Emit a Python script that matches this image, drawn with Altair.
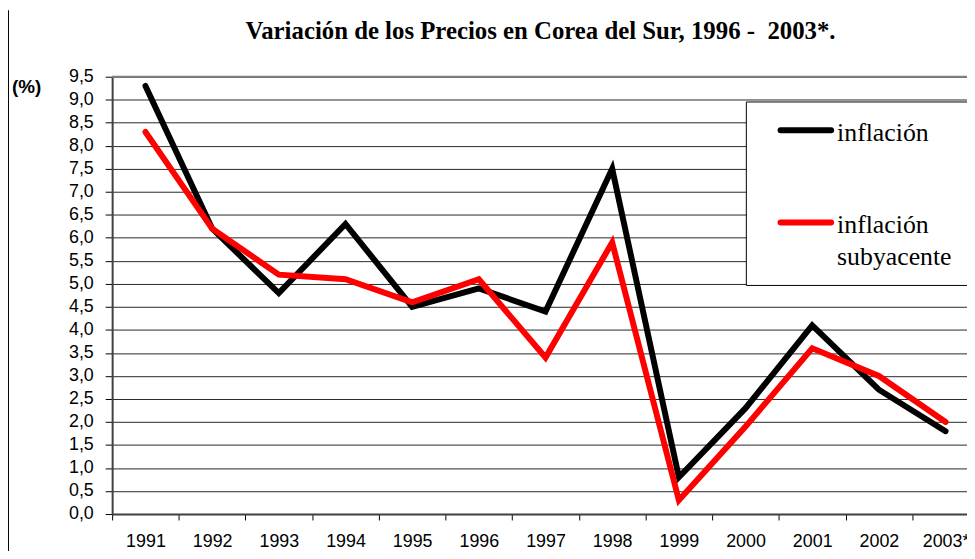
import altair as alt
import pandas as pd

years = ["1991", "1992", "1993", "1994", "1995", "1996", "1997",
         "1998", "1999", "2000", "2001", "2002", "2003*"]
inflacion = [9.3, 6.2, 4.8, 6.3, 4.5, 4.9, 4.4, 7.5, 0.8, 2.3, 4.1, 2.7, 1.8]
subyacente = [8.3, 6.2, 5.2, 5.1, 4.6, 5.1, 3.4, 5.9, 0.3, 1.9, 3.6, 3.0, 2.0]
series_names = ["inflación", "inflación subyacente"]
y_ticks = [i * 0.5 for i in range(20)]
title_text = "Variación de los Precios en Corea del Sur, 1996 -\u00a0 2003*."

rows = []
for y, a in zip(years, inflacion):
    rows.append({"year": y, "serie": series_names[0], "valor": a})
for y, b in zip(years, subyacente):
    rows.append({"year": y, "serie": series_names[1], "valor": b})
df = pd.DataFrame(rows)

W, H = 862, 441
yscale = alt.Scale(domain=[0, 9.5], nice=False, zero=True)

x_enc = alt.X(
    "year:O", sort=years,
    scale=alt.Scale(type="band", range=[0, 874], paddingInner=0, paddingOuter=0),
    axis=alt.Axis(
        title=None, labelAngle=0, tickBand="extent", tickSize=6, tickColor="#000000",
        tickWidth=1, domainColor="#404040", domainWidth=2, grid=False,
        labelFont="Liberation Sans", labelFontSize=18, labelColor="#000000",
        labelPadding=13,
    ),
)
y_enc = alt.Y(
    "valor:Q",
    scale=yscale,
    axis=alt.Axis(
        title=None, values=y_ticks,
        labelExpr="replace(format(datum.value, '.1f'), '.', ',')",
        labelOverlap=False,
        tickSize=7, tickColor="#000000", labelPadding=12,
        labelFont="Liberation Sans", labelFontSize=18, labelColor="#000000",
        domainColor="#404040", domainWidth=2,
        grid=True, gridColor="#000000", gridWidth=1, gridOpacity=0.85,
    ),
)

lines = alt.Chart(df).mark_line(strokeWidth=6, strokeJoin="miter", strokeCap="round").encode(
    x=x_enc, y=y_enc,
    color=alt.Color("serie:N", sort=series_names,
                    scale=alt.Scale(domain=series_names, range=["#000000", "#ff0000"]),
                    legend=None),
    order=alt.Order("serie:N"),
    detail="serie:N",
)

top_line = alt.Chart(pd.DataFrame({"a": [0]})).mark_rule(color="#808080", strokeWidth=2).encode(
    y=alt.value(0), x=alt.value(0), x2=alt.value(880),
)

outer_border = alt.Chart(pd.DataFrame({"a": [0]})).mark_rule(color="#000000", strokeWidth=1).encode(
    x=alt.value(-104.5), y=alt.value(-67), y2=alt.value(480),
)

title = alt.Chart(pd.DataFrame({"t": [title_text]})).mark_text(
    font="Liberation Serif", fontSize=25, fontWeight="bold", align="center",
    baseline="alphabetic", color="#000000",
).encode(text="t:N", x=alt.value(432), y=alt.value(-38))

pct = alt.Chart(pd.DataFrame({"t": ["(%)"]})).mark_text(
    font="Liberation Sans", fontSize=19, fontWeight="bold", align="left", baseline="middle",
    color="#000000",
).encode(text="t:N", x=alt.value(-101), y=alt.value(10))

legend_box = alt.Chart(pd.DataFrame({"a": [0]})).mark_rect(
    fill="#ffffff", stroke="#000000", strokeWidth=1,
).encode(x=alt.value(639.5), x2=alt.value(900), y=alt.value(25.5), y2=alt.value(210.5))

leg_black = alt.Chart(pd.DataFrame({"a": [0]})).mark_rule(
    color="#000000", strokeWidth=6, strokeCap="round").encode(
    x=alt.value(674), x2=alt.value(725), y=alt.value(54))
leg_red = alt.Chart(pd.DataFrame({"a": [0]})).mark_rule(
    color="#ff0000", strokeWidth=6, strokeCap="round").encode(
    x=alt.value(674), x2=alt.value(725), y=alt.value(147))

leg_text = alt.Chart(pd.DataFrame({
    "t": ["inflación", "inflación", "subyacente"],
    "yy": [57, 150, 182],
})).mark_text(font="Liberation Serif", fontSize=26, align="left", baseline="middle",
              color="#000000").encode(
    text="t:N", x=alt.value(731), y=alt.Y("yy:Q", scale=None))

chart = alt.layer(
    lines, top_line, outer_border, title, pct, legend_box, leg_black, leg_red, leg_text,
).properties(
    width=W, height=H,
    autosize=alt.AutoSizeParams(type="none"),
    padding={"left": 105, "top": 67, "right": 0, "bottom": 35},
).configure_view(stroke=None).configure(background="#ffffff")

chart.save("out.html", embed_options={"renderer": "svg", "actions": False})
